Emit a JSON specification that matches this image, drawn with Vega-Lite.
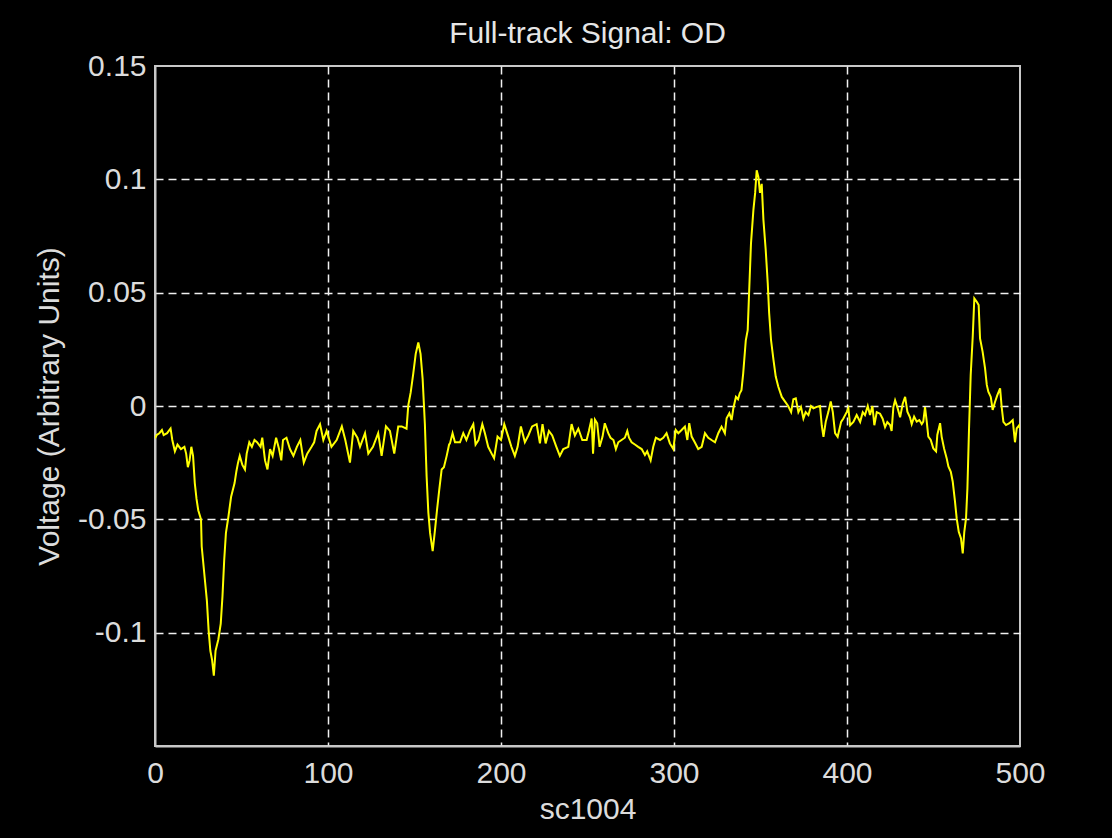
{
 "$schema": "https://vega.github.io/schema/vega-lite/v6.json",
 "width": 865,
 "height": 680,
 "autosize": {"type": "none"},
 "padding": {"left": 155, "top": 66, "right": 92, "bottom": 92},
 "background": "#000000",
 "title": {"text": "Full-track Signal: OD", "color": "#e6e6e6", "font": "Liberation Sans", "fontSize": 30, "fontWeight": "normal", "offset": 2, "anchor": "middle"},
 "view": {"stroke": "#c8c8c8", "strokeWidth": 2, "fill": "#000000"},
 "data": {"values": [
  {"sample":0,"voltage":-0.0143},{"sample":1,"voltage":-0.0128},{"sample":2.5,"voltage":-0.012},{"sample":4,"voltage":-0.0106},{"sample":5,"voltage":-0.0128},{"sample":7,"voltage":-0.012},{"sample":9,"voltage":-0.0099},{"sample":10,"voltage":-0.015},{"sample":11.5,"voltage":-0.02},{"sample":13,"voltage":-0.017},{"sample":15,"voltage":-0.019},{"sample":17,"voltage":-0.018},{"sample":18,"voltage":-0.021},{"sample":19,"voltage":-0.027},{"sample":20,"voltage":-0.024},{"sample":21,"voltage":-0.018},{"sample":22,"voltage":-0.022},{"sample":23,"voltage":-0.034},{"sample":24,"voltage":-0.041},{"sample":25,"voltage":-0.046},{"sample":26.6,"voltage":-0.05},{"sample":27,"voltage":-0.062},{"sample":28.5,"voltage":-0.074},{"sample":30,"voltage":-0.086},{"sample":31,"voltage":-0.099},{"sample":32,"voltage":-0.108},{"sample":33,"voltage":-0.112},{"sample":34,"voltage":-0.119},{"sample":35,"voltage":-0.108},{"sample":36.6,"voltage":-0.103},{"sample":38,"voltage":-0.096},{"sample":39,"voltage":-0.084},{"sample":40,"voltage":-0.068},{"sample":41,"voltage":-0.056},{"sample":42.4,"voltage":-0.049},{"sample":44,"voltage":-0.04},{"sample":46,"voltage":-0.034},{"sample":47,"voltage":-0.029},{"sample":48,"voltage":-0.025},{"sample":49,"voltage":-0.022},{"sample":50.5,"voltage":-0.026},{"sample":52,"voltage":-0.028},{"sample":53,"voltage":-0.021},{"sample":54.5,"voltage":-0.016},{"sample":56,"voltage":-0.018},{"sample":57.5,"voltage":-0.015},{"sample":59,"voltage":-0.016},{"sample":61,"voltage":-0.018},{"sample":62,"voltage":-0.014},{"sample":63.6,"voltage":-0.024},{"sample":65,"voltage":-0.028},{"sample":66.5,"voltage":-0.019},{"sample":68,"voltage":-0.022},{"sample":70,"voltage":-0.014},{"sample":71.7,"voltage":-0.019},{"sample":73,"voltage":-0.024},{"sample":74,"voltage":-0.015},{"sample":76,"voltage":-0.014},{"sample":78,"voltage":-0.019},{"sample":80,"voltage":-0.022},{"sample":82,"voltage":-0.018},{"sample":84,"voltage":-0.015},{"sample":86,"voltage":-0.025},{"sample":88,"voltage":-0.021},{"sample":90.5,"voltage":-0.018},{"sample":92,"voltage":-0.016},{"sample":93.4,"voltage":-0.011},{"sample":95.4,"voltage":-0.008},{"sample":97.3,"voltage":-0.015},{"sample":99.2,"voltage":-0.011},{"sample":102,"voltage":-0.018},{"sample":105,"voltage":-0.015},{"sample":108,"voltage":-0.009},{"sample":110,"voltage":-0.015},{"sample":112.7,"voltage":-0.025},{"sample":114.6,"voltage":-0.011},{"sample":117,"voltage":-0.014},{"sample":118.5,"voltage":-0.018},{"sample":121.4,"voltage":-0.012},{"sample":123.3,"voltage":-0.021},{"sample":126,"voltage":-0.018},{"sample":129,"voltage":-0.012},{"sample":131,"voltage":-0.022},{"sample":133.5,"voltage":-0.009},{"sample":135.8,"voltage":-0.011},{"sample":138.3,"voltage":-0.021},{"sample":140.6,"voltage":-0.009},{"sample":142.6,"voltage":-0.009},{"sample":145.4,"voltage":-0.01},{"sample":146.4,"voltage":0.0003},{"sample":147.8,"voltage":0.006},{"sample":149.3,"voltage":0.0144},{"sample":150.7,"voltage":0.023},{"sample":152.2,"voltage":0.028},{"sample":153.5,"voltage":0.023},{"sample":154.7,"voltage":0.012},{"sample":156,"voltage":-0.008},{"sample":157,"voltage":-0.031},{"sample":158,"voltage":-0.047},{"sample":159,"voltage":-0.056},{"sample":160.5,"voltage":-0.064},{"sample":161.8,"voltage":-0.055},{"sample":163,"voltage":-0.046},{"sample":164.3,"voltage":-0.037},{"sample":165.7,"voltage":-0.028},{"sample":167,"voltage":-0.027},{"sample":168.6,"voltage":-0.022},{"sample":170,"voltage":-0.017},{"sample":170.5,"voltage":-0.0165},{"sample":172,"voltage":-0.012},{"sample":173.4,"voltage":-0.016},{"sample":176.3,"voltage":-0.016},{"sample":178.2,"voltage":-0.012},{"sample":180,"voltage":-0.015},{"sample":182,"voltage":-0.011},{"sample":184,"voltage":-0.008},{"sample":185.3,"voltage":-0.017},{"sample":187,"voltage":-0.015},{"sample":189.2,"voltage":-0.008},{"sample":190.7,"voltage":-0.012},{"sample":192.6,"voltage":-0.018},{"sample":194.6,"voltage":-0.021},{"sample":196,"voltage":-0.023},{"sample":198,"voltage":-0.0135},{"sample":200,"voltage":-0.015},{"sample":201.9,"voltage":-0.008},{"sample":204.2,"voltage":-0.0135},{"sample":206,"voltage":-0.018},{"sample":208,"voltage":-0.022},{"sample":209.6,"voltage":-0.018},{"sample":211.5,"voltage":-0.009},{"sample":213.8,"voltage":-0.016},{"sample":215.8,"voltage":-0.013},{"sample":218,"voltage":-0.009},{"sample":220.6,"voltage":-0.008},{"sample":222.5,"voltage":-0.0165},{"sample":224,"voltage":-0.008},{"sample":225.8,"voltage":-0.0165},{"sample":227.7,"voltage":-0.011},{"sample":229.6,"voltage":-0.013},{"sample":232,"voltage":-0.018},{"sample":234,"voltage":-0.022},{"sample":236,"voltage":-0.019},{"sample":238.9,"voltage":-0.018},{"sample":240.8,"voltage":-0.008},{"sample":242.7,"voltage":-0.013},{"sample":244.7,"voltage":-0.01},{"sample":247,"voltage":-0.015},{"sample":249.5,"voltage":-0.015},{"sample":250.8,"voltage":-0.011},{"sample":252.4,"voltage":-0.0055},{"sample":253.2,"voltage":-0.021},{"sample":254.3,"voltage":-0.006},{"sample":255.6,"voltage":-0.0076},{"sample":257,"voltage":-0.018},{"sample":258.7,"voltage":-0.0135},{"sample":260,"voltage":-0.0076},{"sample":262,"voltage":-0.012},{"sample":263.3,"voltage":-0.014},{"sample":265,"voltage":-0.015},{"sample":266.4,"voltage":-0.019},{"sample":267.8,"voltage":-0.016},{"sample":269.7,"voltage":-0.015},{"sample":271.6,"voltage":-0.014},{"sample":273,"voltage":-0.011},{"sample":274,"voltage":-0.014},{"sample":275.5,"voltage":-0.016},{"sample":277.4,"voltage":-0.017},{"sample":279.3,"voltage":-0.018},{"sample":281.3,"voltage":-0.019},{"sample":283.2,"voltage":-0.0216},{"sample":284.5,"voltage":-0.02},{"sample":286.5,"voltage":-0.024},{"sample":288,"voltage":-0.018},{"sample":289.5,"voltage":-0.014},{"sample":291.9,"voltage":-0.015},{"sample":293.8,"voltage":-0.014},{"sample":295.7,"voltage":-0.012},{"sample":297.6,"voltage":-0.0165},{"sample":299.6,"voltage":-0.019},{"sample":301,"voltage":-0.0106},{"sample":302.5,"voltage":-0.012},{"sample":304.4,"voltage":-0.0106},{"sample":306.3,"voltage":-0.0091},{"sample":307.7,"voltage":-0.015},{"sample":308.8,"voltage":-0.0076},{"sample":310.2,"voltage":-0.0135},{"sample":312,"voltage":-0.016},{"sample":314,"voltage":-0.019},{"sample":316,"voltage":-0.018},{"sample":317.9,"voltage":-0.012},{"sample":319.8,"voltage":-0.014},{"sample":321.7,"voltage":-0.015},{"sample":323.7,"voltage":-0.016},{"sample":325.6,"voltage":-0.012},{"sample":327.5,"voltage":-0.0091},{"sample":329.4,"voltage":-0.012},{"sample":330.4,"voltage":-0.0054},{"sample":332,"voltage":-0.0032},{"sample":333.3,"voltage":-0.0062},{"sample":334.3,"voltage":-0.001},{"sample":335.8,"voltage":0.004},{"sample":337,"voltage":0.003},{"sample":338,"voltage":0.0056},{"sample":339,"voltage":0.007},{"sample":340,"voltage":0.0144},{"sample":341.5,"voltage":0.029},{"sample":342.6,"voltage":0.0335},{"sample":343.4,"voltage":0.0497},{"sample":344.5,"voltage":0.0717},{"sample":345.9,"voltage":0.0865},{"sample":346.9,"voltage":0.094},{"sample":347.8,"voltage":0.104},{"sample":348.8,"voltage":0.101},{"sample":349.7,"voltage":0.094},{"sample":350.7,"voltage":0.098},{"sample":351.7,"voltage":0.082},{"sample":353,"voltage":0.069},{"sample":354.2,"voltage":0.054},{"sample":355,"voltage":0.041},{"sample":356.1,"voltage":0.029},{"sample":357.5,"voltage":0.0203},{"sample":358.8,"voltage":0.013},{"sample":360.3,"voltage":0.0085},{"sample":362.3,"voltage":0.004},{"sample":364.2,"voltage":0.0019},{"sample":366,"voltage":0.0},{"sample":367.7,"voltage":-0.0027},{"sample":369,"voltage":0.003},{"sample":370.4,"voltage":0.0034},{"sample":371.9,"voltage":-0.0027},{"sample":373.4,"voltage":-0.0004},{"sample":374.8,"voltage":-0.0055},{"sample":376.1,"voltage":-0.0027},{"sample":377.7,"voltage":-0.004},{"sample":379.2,"voltage":0.0},{"sample":380.6,"voltage":-0.001},{"sample":382.5,"voltage":-0.0004},{"sample":384.4,"voltage":0.0},{"sample":385.4,"voltage":-0.0085},{"sample":386.4,"voltage":-0.0136},{"sample":387.7,"voltage":-0.007},{"sample":389.2,"voltage":-0.0027},{"sample":390.6,"voltage":0.002},{"sample":391.8,"voltage":-0.0027},{"sample":393.1,"voltage":-0.012},{"sample":394.6,"voltage":-0.0136},{"sample":396.6,"voltage":-0.007},{"sample":397.9,"voltage":-0.0055},{"sample":399.8,"voltage":-0.0027},{"sample":400.8,"voltage":-0.001},{"sample":401.8,"voltage":-0.0085},{"sample":403.7,"voltage":-0.007},{"sample":405.6,"voltage":-0.004},{"sample":407.6,"voltage":-0.007},{"sample":409.1,"voltage":-0.0027},{"sample":410.4,"voltage":-0.004},{"sample":412,"voltage":0.0},{"sample":413.3,"voltage":-0.004},{"sample":414.7,"voltage":0.0},{"sample":415.8,"voltage":-0.0085},{"sample":417.2,"voltage":-0.0027},{"sample":419.1,"voltage":-0.0034},{"sample":420.6,"voltage":-0.0056},{"sample":422,"voltage":-0.0093},{"sample":423.3,"voltage":-0.0071},{"sample":424.9,"voltage":-0.0084},{"sample":425.8,"voltage":-0.011},{"sample":426.8,"voltage":-0.0005},{"sample":427.8,"voltage":0.0025},{"sample":429.1,"voltage":-0.0005},{"sample":430.7,"voltage":-0.005},{"sample":432.2,"voltage":0.001},{"sample":433.6,"voltage":0.004},{"sample":434.9,"voltage":-0.0025},{"sample":436.4,"voltage":-0.005},{"sample":437.4,"voltage":-0.008},{"sample":438.8,"voltage":-0.0047},{"sample":440.3,"voltage":-0.0069},{"sample":441.8,"voltage":-0.0062},{"sample":443.2,"voltage":-0.008},{"sample":444.1,"voltage":-0.0069},{"sample":445.1,"voltage":-0.0005},{"sample":446.1,"voltage":-0.0069},{"sample":447,"voltage":-0.0135},{"sample":448.4,"voltage":-0.015},{"sample":449.9,"voltage":-0.0187},{"sample":451.5,"voltage":-0.02},{"sample":452.2,"voltage":-0.0128},{"sample":453.8,"voltage":-0.0076},{"sample":454.7,"voltage":-0.0135},{"sample":456.1,"voltage":-0.0187},{"sample":457.6,"voltage":-0.023},{"sample":458.6,"voltage":-0.0267},{"sample":460,"voltage":-0.029},{"sample":461.1,"voltage":-0.0333},{"sample":462.4,"voltage":-0.042},{"sample":463.4,"voltage":-0.0496},{"sample":464.6,"voltage":-0.0555},{"sample":465.9,"voltage":-0.0584},{"sample":466.9,"voltage":-0.065},{"sample":467.8,"voltage":-0.0555},{"sample":468.8,"voltage":-0.0496},{"sample":469.6,"voltage":-0.0363},{"sample":470.5,"voltage":-0.011},{"sample":471.5,"voltage":0.0137},{"sample":472.7,"voltage":0.031},{"sample":473.6,"voltage":0.0475},{"sample":475,"voltage":0.046},{"sample":476.1,"voltage":0.0445},{"sample":476.9,"voltage":0.0298},{"sample":478.4,"voltage":0.0239},{"sample":479.8,"voltage":0.0166},{"sample":480.8,"voltage":0.0093},{"sample":481.7,"voltage":0.0063},{"sample":483.1,"voltage":0.004},{"sample":484.2,"voltage":-0.0017},{"sample":485.6,"voltage":0.0019},{"sample":486.9,"voltage":0.0048},{"sample":488.5,"voltage":0.0078},{"sample":489.4,"voltage":-0.0004},{"sample":490.4,"voltage":-0.007},{"sample":491.9,"voltage":-0.0084},{"sample":493.9,"voltage":-0.0076},{"sample":495.8,"voltage":-0.0062},{"sample":497.1,"voltage":-0.016},{"sample":498.1,"voltage":-0.0099},{"sample":499.6,"voltage":-0.0084},{"sample":500,"voltage":-0.0099}
 ]},
 "mark": {"type": "line", "color": "#ffff00", "strokeWidth": 2, "clip": true},
 "encoding": {
  "x": {"field": "sample", "type": "quantitative",
        "scale": {"domain": [0, 500], "nice": false, "zero": false},
        "axis": {"title": "sc1004", "values": [0, 100, 200, 300, 400, 500], "labelPadding": 12, "labelFlush": false, "titlePadding": 6,
                 "gridOpacity": {"condition": {"test": "datum.value == 0 || datum.value == 500", "value": 0}, "value": 1}}},
  "y": {"field": "voltage", "type": "quantitative",
        "scale": {"domain": [-0.15, 0.15], "nice": false, "zero": false},
        "axis": {"title": "Voltage (Arbitrary Units)", "values": [-0.1, -0.05, 0, 0.05, 0.1, 0.15], "labelExpr": "toString(datum.value)", "labelPadding": 9, "labelFlush": false, "titlePadding": 13,
                 "gridOpacity": {"condition": {"test": "datum.value > 0.14", "value": 0}, "value": 1}}}
 },
 "config": {
  "axis": {"grid": true, "gridColor": "#f0f0f0", "gridDash": [8, 5], "gridWidth": 1.5,
           "domainColor": "#c8c8c8", "domainWidth": 2, "ticks": false,
           "labelColor": "#dcdcdc", "labelFont": "Liberation Sans", "labelFontSize": 30,
           "titleColor": "#dcdcdc", "titleFont": "Liberation Sans", "titleFontSize": 30, "titleFontWeight": "normal"}
 }
}
